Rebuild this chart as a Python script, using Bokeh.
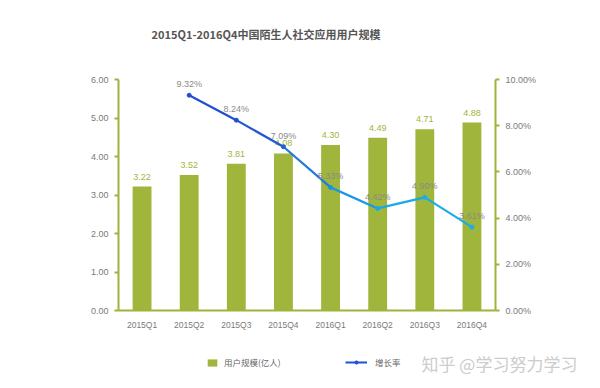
from bokeh.plotting import figure
from bokeh.models import (Range1d, LinearAxis, FactorRange, FixedTicker, PrintfTickFormatter,
                          ColumnDataSource, Legend, LegendItem, Label)
from bokeh.core.properties import value
from bokeh.embed import file_html
from bokeh.resources import INLINE

quarters = ["2015Q1", "2015Q2", "2015Q3", "2015Q4", "2016Q1", "2016Q2", "2016Q3", "2016Q4"]
users = [3.22, 3.52, 3.81, 4.08, 4.30, 4.49, 4.71, 4.88]
growth = [None, 9.32, 8.24, 7.09, 5.33, 4.42, 4.90, 3.61]
left_ticks = [0, 1, 2, 3, 4, 5, 6]
right_ticks = [0, 2, 4, 6, 8, 10]

title_text = "2015Q1-2016Q4中国陌生人社交应用用户规模"
bar_name = "用户规模(亿人)"
line_name = "增长率"
watermark = "知乎 @学习努力学习"

GREEN = "#a0b53b"
AXIS = "#9db43a"
GRAY = "#7a7a7a"
seg_colors = ["#2050cf", "#2058d2", "#1f78dc", "#1b98e4", "#19a8e8", "#19aeea"]
pt_colors = ["#2050cf", "#2050cf", "#2060d4", "#1c90e2", "#19a8e8", "#19aeea", "#19aeea"]
FONT = "Liberation Sans"
CJK = "Noto Sans CJK SC"


def blank_strip(h):
    s = figure(width=600, height=h, x_range=Range1d(0, 600), y_range=Range1d(0, h),
               output_backend="svg", toolbar_location=None,
               min_border=0, min_border_left=0, min_border_right=0, min_border_top=0, min_border_bottom=0)
    s.axis.visible = False
    s.xgrid.visible = False
    s.ygrid.visible = False
    s.outline_line_color = None
    return s


# header with the title
hdr = blank_strip(50)
hdr.add_layout(Label(x=151, y=17, text=title_text, text_font=CJK, text_font_size="11px",
                     text_font_style="bold", text_color="#555555", text_baseline="middle"))

# main chart
p = figure(width=600, height=290, x_range=FactorRange(*quarters, range_padding=0),
           y_range=Range1d(0, 6), output_backend="svg", toolbar_location=None,
           min_border_left=118, min_border_right=105, min_border_top=29, min_border_bottom=30)
p.extra_y_ranges = {"rate": Range1d(0, 10)}
p.outline_line_color = None
p.xgrid.visible = False
p.ygrid.visible = False

src = ColumnDataSource(dict(q=quarters, u=users, ul=[f"{v:.2f}" for v in users]))
bars = p.vbar(x="q", top="u", width=0.4, source=src, fill_color=GREEN, line_color=None)
p.text(x="q", y="u", text="ul", source=src, y_offset=-10, text_align="center",
       text_baseline="middle", text_color=GREEN, text_font=value(FONT), text_font_size="9px")

gq = [q for q, g in zip(quarters, growth) if g is not None]
gv = [g for g in growth if g is not None]
xs = [[gq[i], gq[i + 1]] for i in range(len(gq) - 1)]
ys = [[gv[i], gv[i + 1]] for i in range(len(gv) - 1)]
lines = p.multi_line(xs=xs, ys=ys, line_color=seg_colors, line_width=2.2, y_range_name="rate")
gsrc = ColumnDataSource(dict(q=gq, g=gv, c=pt_colors, gl=[f"{v:.2f}%" for v in gv]))
pts = p.scatter(x="q", y="g", source=gsrc, size=4, fill_color="c", line_color="c", y_range_name="rate")
p.text(x="q", y="g", text="gl", source=gsrc, y_offset=-11, text_align="center",
       text_baseline="middle", text_color="#8a8a8a", text_font=value(FONT), text_font_size="9px",
       y_range_name="rate")

# axes
ya = p.yaxis[0]
ya.ticker = FixedTicker(ticks=left_ticks)
ya.formatter = PrintfTickFormatter(format="%.2f")
ra = LinearAxis(y_range_name="rate", ticker=FixedTicker(ticks=right_ticks),
                formatter=PrintfTickFormatter(format="%.2f%%"))
p.add_layout(ra, "right")
for ax in (ya, ra):
    ax.axis_line_color = AXIS
    ax.axis_line_width = 2
    ax.major_tick_line_color = AXIS
    ax.major_tick_line_width = 2
    ax.major_tick_out = 4
    ax.major_tick_in = 0
    ax.minor_tick_line_color = None
    ax.major_label_text_color = GRAY
    ax.major_label_text_font = FONT
    ax.major_label_text_font_size = "9px"
    ax.major_label_standoff = 6
xa = p.xaxis[0]
xa.axis_line_color = AXIS
xa.axis_line_width = 2
xa.major_tick_line_color = None
xa.minor_tick_line_color = None
xa.major_label_text_color = GRAY
xa.major_label_text_font = FONT
xa.major_label_text_font_size = "8.5px"
xa.major_label_standoff = 3

# footer with legend and watermark
f = blank_strip(48)
# legend proxies (lie outside the footer's visible range)
lb = f.vbar(x=[-50], top=[-50], width=1, fill_color=GREEN, line_color=None)
ll = f.line(x=[-50, -40], y=[-50, -50], line_color="#2050cf", line_width=2)
lp = f.scatter(x=[-50], y=[-50], size=4, fill_color="#2050cf", line_color="#2050cf")

leg1 = Legend(items=[LegendItem(label=bar_name, renderers=[lb])], location=(206, 20),
              glyph_width=12, glyph_height=9, label_height=10, label_standoff=6,
              padding=0, margin=0, border_line_color=None, background_fill_alpha=0,
              label_text_font=CJK, label_text_font_size="8.5px", label_text_color="#666666")
leg2 = Legend(items=[LegendItem(label=line_name, renderers=[ll, lp])], location=(345, 20),
              glyph_width=22, glyph_height=8, label_height=10, label_standoff=8,
              padding=0, margin=0, border_line_color=None, background_fill_alpha=0,
              label_text_font=CJK, label_text_font_size="8.5px", label_text_color="#666666")
f.add_layout(leg1, "center")
f.add_layout(leg2, "center")

f.add_layout(Label(x=421, y=25, text=watermark, text_font=CJK, text_font_size="17px",
                   text_color="#cccccc", text_baseline="middle"))

open("out.html", "w").write(file_html([hdr, p, f], INLINE))
